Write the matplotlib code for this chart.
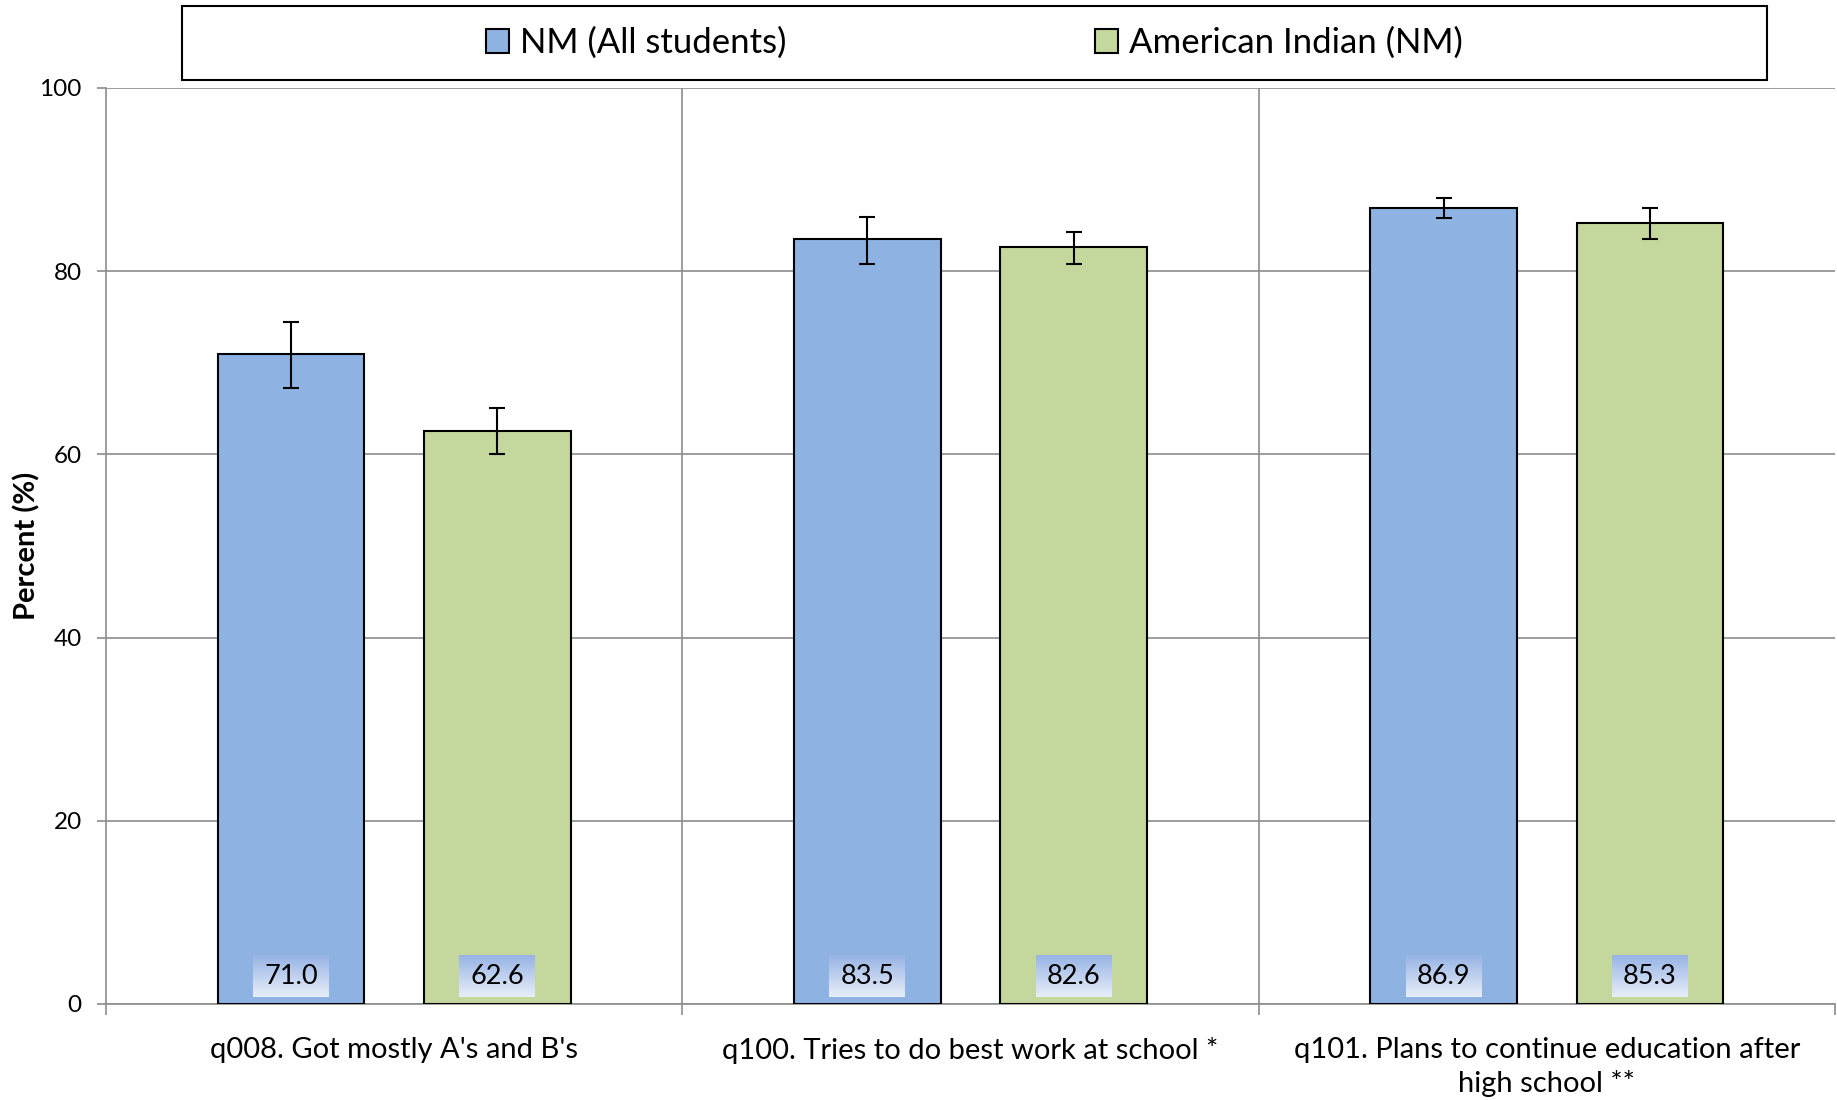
import matplotlib
matplotlib.use("Agg")
import matplotlib.pyplot as plt
import numpy as np
from matplotlib.patches import Rectangle
from matplotlib.colors import LinearSegmentedColormap

categories = ["q008. Got mostly A's and B's",
              "q100. Tries to do best work at school *",
              "q101. Plans to continue education after\nhigh school **"]
series_names = ["NM (All students)", "American Indian (NM)"]
nm_all = [71.0, 83.5, 86.9]
nm_all_lo = [67.3, 80.8, 85.8]
nm_all_hi = [74.5, 85.9, 88.0]
am_ind = [62.6, 82.6, 85.3]
am_ind_lo = [60.0, 80.8, 83.5]
am_ind_hi = [65.1, 84.3, 86.9]
yticks = [0, 20, 40, 60, 80, 100]

plt.rcParams['font.family'] = ['Lato', 'DejaVu Sans']

fig = plt.figure(figsize=(18.37, 11.0), dpi=100)
ax = fig.add_axes([106/1837, 1-1004/1100, (1835-106)/1837, (1004-88)/1100])

x = np.arange(len(categories))
w = 0.255
off = 0.179
colors = ['#8eb3e2', '#c4d79c']
labels = []
for vals, lo, hi, sgn, col, name in [(nm_all, nm_all_lo, nm_all_hi, -1, colors[0], series_names[0]),
                                     (am_ind, am_ind_lo, am_ind_hi, 1, colors[1], series_names[1])]:
    xs = x + sgn*off
    ax.bar(xs, vals, width=w, color=col, edgecolor='black', linewidth=1.5, label=name, zorder=3)
    v = np.array(vals)
    yerr = np.vstack([v - np.array(lo), np.array(hi) - v])
    ax.errorbar(xs, vals, yerr=yerr, fmt='none', ecolor='black', elinewidth=1.5, capsize=6, capthick=1.5, zorder=4)
    for xi, vi in zip(xs, vals):
        t = ax.text(xi, 3.0, f"{vi:.1f}", ha='center', va='center', fontsize=19.5, zorder=6,
                    bbox=dict(boxstyle='square,pad=0.3', facecolor='none', edgecolor='none'))
        labels.append(t)

ax.set_xlim(-0.5, 2.5)
ax.set_ylim(0, 100)
ax.set_yticks(yticks)
ax.set_yticklabels([str(t) for t in yticks], fontsize=17.5)
ax.yaxis.grid(True, color='#8c8c8c', linewidth=1.2, zorder=0)
for b in [0.5, 1.5]:
    ax.axvline(b, color='#8c8c8c', linewidth=1.2, zorder=0)
ax.set_xticks([-0.5, 0.5, 1.5, 2.5])
ax.set_xticklabels([])
ax.set_xticks(x, minor=True)
ax.set_xticklabels(categories, minor=True, fontsize=21, linespacing=1.3)
ax.tick_params(axis='x', which='minor', length=0, pad=24)
ax.tick_params(axis='x', which='major', length=8, color='#8c8c8c', width=1.2)
ax.tick_params(axis='y', length=6.5, color='#8c8c8c', width=1.2, pad=11)
for s in ['top', 'right']:
    ax.spines[s].set_visible(False)
for s in ['left', 'bottom']:
    ax.spines[s].set_color('#8c8c8c')
    ax.spines[s].set_linewidth(1.2)
fig.text(27/1837, 1-546/1100, "Percent (%)", rotation=90, ha='center', va='center',
         fontsize=21, fontweight='bold')

leg = fig.legend(loc='center', bbox_to_anchor=(182/1837, 1-80/1100, (1767-182)/1837, 74/1100),
                 ncol=2, fontsize=25, frameon=False,
                 handlelength=0.66, handleheight=0.66, handletextpad=0.3, columnspacing=8.9, borderaxespad=0)
for h in leg.legend_handles:
    h.set_linewidth(1.5)

fig.patches.append(Rectangle((182/1837, 1-80/1100), (1767-182)/1837, 74/1100, transform=fig.transFigure,
                             fill=False, edgecolor='black', linewidth=1.5))

# gradient backgrounds for the value labels
fig.canvas.draw()
cmap = LinearSegmentedColormap.from_list('lbl', ['#e8eef9', '#97b4e5'])
grad = np.linspace(0, 1, 64).reshape(-1, 1)
inv = ax.transData.inverted()
for t in labels:
    bb = t.get_bbox_patch().get_window_extent()
    (x0, y0), (x1, y1) = inv.transform([[bb.x0 - 3, bb.y0], [bb.x1 + 3, bb.y1]])
    ax.imshow(grad, cmap=cmap, extent=(x0, x1, y0, y1), origin='lower', aspect='auto',
              zorder=5, interpolation='bilinear')
ax.set_xlim(-0.5, 2.5)
ax.set_ylim(0, 100)

fig.savefig("out.png", dpi=100)
